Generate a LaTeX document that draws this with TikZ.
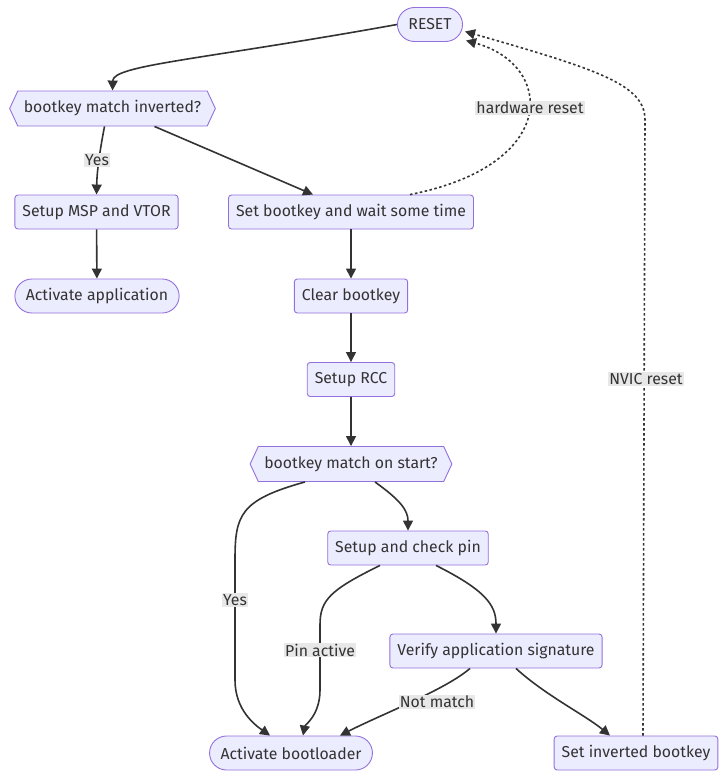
\documentclass[tikz,border=0pt]{standalone}
\usepackage{fontspec}
\setmainfont{Fira Sans}
\usetikzlibrary{arrows.meta,shapes.symbols}
\definecolor{boxfill}{HTML}{ECECFF}
\definecolor{boxline}{HTML}{9370DB}
\definecolor{ink}{HTML}{333333}
\definecolor{lblfill}{HTML}{E8E8E8}
\begin{document}
\begin{tikzpicture}[x=1pt,y=-1pt,font=\fontsize{15.8}{18}\selectfont,text=ink,
  box/.style={draw=boxline,fill=boxfill,line width=0.9pt,rounded corners=3pt,minimum height=34pt,inner xsep=7.5pt},
  stadium/.style={box,rounded corners=17pt,inner xsep=11pt},
  hexa/.style={box,rounded corners=0pt,shape=signal,signal to=west and east,signal pointer angle=130,inner xsep=6pt,minimum height=35pt},
  lbl/.style={fill=lblfill,inner sep=1pt},
  flow/.style={draw=ink,line width=1.6pt,-{Triangle[length=10pt,width=10pt]}},
  dots/.style={flow,dash pattern=on 2.5pt off 2.5pt}]
  \useasboundingbox (0,0) rectangle (727,779);
  % nodes
  \node[stadium] (reset) at (430,24.5) {RESET};
  \node[hexa] (inv) at (112.5,108.5) {bootkey match inverted?};
  \node[box] (msp) at (96.5,212) {Setup MSP and VTOR};
  \node[box] (setkey) at (351,212) {Set bootkey and wait some time};
  \node[stadium] (actapp) at (97,296) {Activate application};
  \node[box] (clear) at (351,296) {Clear bootkey};
  \node[box] (rcc) at (351,379.5) {Setup RCC};
  \node[hexa] (start) at (351,464) {bootkey match on start?};
  \node[box] (pin) at (408,548) {Setup and check pin};
  \node[box] (verify) at (496,651) {Verify application signature};
  \node[stadium] (actboot) at (291,753) {Activate bootloader};
  \node[box] (setinv) at (636,753) {Set inverted bootkey};
  % edges
  \draw[flow] (reset.west) .. controls (200,60) and (113,65) .. (inv.north);
  \draw[flow] ([xshift=-8pt]inv.south) .. controls (100,150) and (97,170) .. (msp.north);
  \draw[flow] ([xshift=42pt]inv.south) -- ([xshift=-38pt]setkey.north);
  \draw[dots] ([xshift=59pt]setkey.north) .. controls (560,165) and (555,65) .. ([xshift=3pt,yshift=-16pt]reset.east);
  \draw[flow] (msp) -- (actapp);
  \draw[flow] (setkey) -- (clear);
  \draw[flow] (clear) -- (rcc);
  \draw[flow] (rcc) -- (start);
  \draw[flow] ([xshift=-46pt]start.south) .. controls (240,500) and (235,515) .. (235,560) -- (235,680) .. controls (235,710) and (255,725) .. ([xshift=-21pt]actboot.north);
  \draw[flow] ([xshift=24pt]start.south) .. controls (400,500) and (408,510) .. (pin.north);
  \draw[flow] ([xshift=-28pt]pin.south) .. controls (330,590) and (320,600) .. (320,625) -- (320,690) .. controls (320,715) and (305,725) .. ([xshift=12pt]actboot.north);
  \draw[flow] ([xshift=28pt]pin.south) .. controls (485,590) and (496,605) .. (verify.north);
  \draw[flow] ([xshift=-26pt]verify.south) .. controls (445,690) and (380,715) .. ([xshift=49pt]actboot.north);
  \draw[flow] ([xshift=20pt]verify.south) .. controls (545,695) and (585,715) .. ([xshift=-26pt]setinv.north);
  \draw[dots] ([xshift=7pt]setinv.north) -- (645,120) .. controls (645,85) and (600,70) .. ([xshift=2pt,yshift=-7pt]reset.east);
  % edge labels
  \node[lbl] (yes1) at (97,160) {Yes};
  \node[lbl] (hwreset) at (530,108) {hardware reset};
  \node[lbl] (yes2) at (235,600) {Yes};
  \node[lbl] (pinact) at (320,650) {Pin active};
  \node[lbl] (nomatch) at (437,702) {Not match};
  \node[lbl] (nvic) at (646,379) {NVIC reset};
\end{tikzpicture}
\end{document}
